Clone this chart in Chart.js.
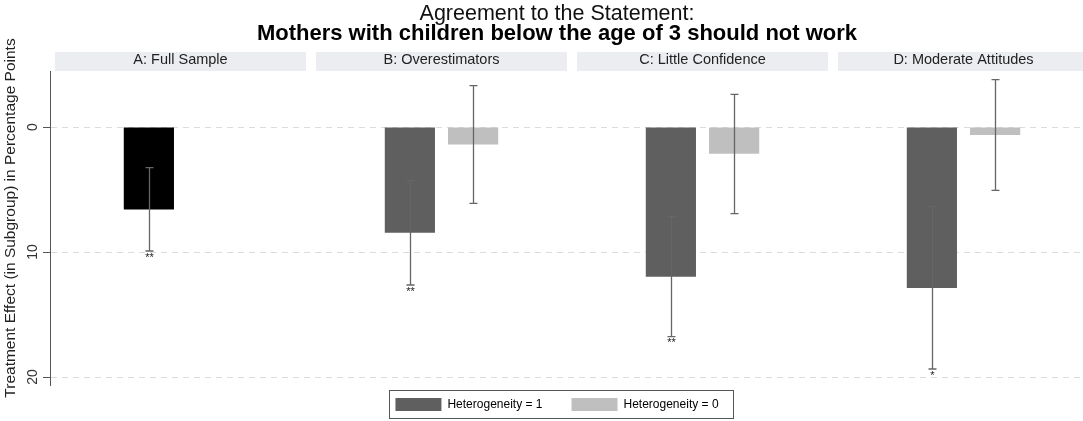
<!DOCTYPE html>
<html>
<head>
<meta charset="utf-8">
<script src="https://cdn.jsdelivr.net/npm/chart.js@4.4.1/dist/chart.umd.min.js"></script>
<style>
html, body { margin: 0; padding: 0; background: #fff; overflow: hidden; }
/* the original figure is cut off on the right, so the canvas runs a bit past the window */
#wrap { width: 1094px; height: 421px; }
</style>
</head>
<body>
<div id="wrap"><canvas id="effectChart"></canvas></div>
<script>
Chart.defaults.font.family = "'Liberation Sans', Arial, sans-serif";

const panels = ["A: Full Sample", "B: Overestimators", "C: Little Confidence", "D: Moderate Attitudes"];
const het1 = [6.59, 8.45, 11.97, 12.88];
const het1Low = [3.25, 4.29, 7.17, 6.37];
const het1High = [9.92, 12.64, 16.77, 19.36];
const het1Stars = ["**", "**", "**", "*"];
const het0 = [null, 1.39, 2.13, 0.64];
const het0Low = [null, -3.31, -2.61, -3.79];
const het0High = [null, 6.11, 6.93, 5.07];
const het0Stars = ["", "", "", ""];
const yTicks = [0, 10, 20];
const legendLabels = ["Heterogeneity = 1", "Heterogeneity = 0"];
const yTitle = "Treatment Effect (in Subgroup) in Percentage Points";

const darkGrey = "#5f5f5f";
const lightGrey = "#bfbfbf";

// grey strips behind the panel headers
const strips = {
    id: "strips",
    beforeDraw(chart){
        const ctx = chart.ctx;
        const x = chart.scales.x;
        ctx.save();
        ctx.fillStyle = "#fff";
        ctx.fillRect(0, 0, chart.width, chart.height);
        ctx.fillStyle = "#ebedf0";
        for(let i = 0; i < panels.length; i++){
            const cx = x.getPixelForValue(i);
            ctx.fillRect(cx - 125.5, x.top, 251, x.bottom - x.top);
        }
        ctx.restore();
    },
    afterLayout(chart){
        // pull the legend items up a bit so they sit inside the frame
        chart.legend.top -= 16;
    }
};

// confidence intervals + significance stars
const errorBars = {
    id: "errorBars",
    afterDatasetsDraw(chart){
        const ctx = chart.ctx;
        const y = chart.scales.y;
        ctx.save();
        chart.data.datasets.forEach((ds, di) => {
            const meta = chart.getDatasetMeta(di);
            meta.data.forEach((bar, i) => {
                if(ds.low[i] == null) return;
                const bx = Math.round(bar.x) + 0.5;
                const y1 = y.getPixelForValue(ds.low[i]);
                const y2 = y.getPixelForValue(ds.high[i]);
                ctx.strokeStyle = "#666";
                ctx.lineWidth = 1.3;
                ctx.beginPath();
                ctx.moveTo(bx, y1); ctx.lineTo(bx, y2);
                ctx.moveTo(bx - 4, y1); ctx.lineTo(bx + 4, y1);
                ctx.moveTo(bx - 4, y2); ctx.lineTo(bx + 4, y2);
                ctx.stroke();
                if(ds.stars[i]){
                    ctx.fillStyle = "#222";
                    ctx.font = "11px 'Liberation Sans', Arial, sans-serif";
                    ctx.textAlign = "center";
                    ctx.textBaseline = "top";
                    ctx.fillText(ds.stars[i], bx, y2 + 1);
                }
            });
        });
        ctx.restore();
    }
};

// rotated y labels, axis title and the legend frame
const extras = {
    id: "extras",
    afterDraw(chart){
        const ctx = chart.ctx;
        const y = chart.scales.y;
        ctx.save();
        ctx.fillStyle = "#333";
        ctx.font = "14px 'Liberation Sans', Arial, sans-serif";
        ctx.textAlign = "center";
        ctx.textBaseline = "middle";
        yTicks.forEach(v => {
            ctx.save();
            ctx.translate(33, y.getPixelForValue(v));
            ctx.rotate(-Math.PI / 2);
            ctx.fillText(String(v), 0, 0);
            ctx.restore();
        });
        ctx.save();
        ctx.fillStyle = "#222";
        ctx.font = "15.5px 'Liberation Sans', Arial, sans-serif";
        ctx.translate(11, 218);
        ctx.rotate(-Math.PI / 2);
        ctx.fillText(yTitle, 0, 0);
        ctx.restore();

        const boxes = chart.legend.legendHitBoxes;
        if(boxes && boxes.length){
            const left = Math.min(...boxes.map(b => b.left)) - 6;
            const right = Math.max(...boxes.map(b => b.left + b.width)) + 15;
            const top = 390;
            const bottom = 418;
            ctx.strokeStyle = "#555";
            ctx.lineWidth = 1;
            ctx.strokeRect(Math.round(left) + 0.5, top + 0.5, Math.round(right - left), bottom - top);
        }
        ctx.restore();
    }
};

new Chart(document.getElementById("effectChart"), {
    type: "bar",
    data: {
        labels: panels,
        datasets: [
            {
                label: legendLabels[0],
                data: het1,
                low: het1Low,
                high: het1High,
                stars: het1Stars,
                backgroundColor: ["#000000", darkGrey, darkGrey, darkGrey],
                categoryPercentage: 0.4846,
                barPercentage: 0.7937
            },
            {
                label: legendLabels[1],
                data: het0,
                low: het0Low,
                high: het0High,
                stars: het0Stars,
                backgroundColor: lightGrey,
                categoryPercentage: 0.4846,
                barPercentage: 0.7937
            }
        ]
    },
    options: {
        responsive: true,
        maintainAspectRatio: false,
        animation: false,
        layout: {
            padding: {left: 20, right: 0, top: 0, bottom: 0}
        },
        scales: {
            x: {
                position: "top",
                grid: {display: false, drawTicks: false},
                border: {display: false},
                ticks: {color: "#222", font: {size: 14.5}, padding: 2, maxRotation: 0, autoSkip: false},
                afterFit: s => { s.height = 19; }
            },
            y: {
                reverse: true,
                min: -4.48,
                max: 20.64,
                afterBuildTicks: s => { s.ticks = yTicks.map(v => ({value: v})); },
                afterFit: s => { s.width = 30; },
                ticks: {display: false},
                grid: {color: "#dcdcdc", tickColor: "#555", tickLength: 7, lineWidth: 1},
                border: {display: true, color: "#555", dash: [6, 5]}
            }
        },
        plugins: {
            title: {
                display: true,
                text: "Agreement to the Statement:",
                color: "#111",
                font: {size: 21.5, weight: "normal", lineHeight: "20px"},
                padding: {top: 4, bottom: 0}
            },
            subtitle: {
                display: true,
                text: "Mothers with children below the age of 3 should not work",
                color: "#000",
                font: {size: 22, weight: "bold", lineHeight: "20px"},
                padding: {top: 0, bottom: 8}
            },
            legend: {
                position: "bottom",
                maxHeight: 36,
                labels: {
                    boxWidth: 46,
                    boxHeight: 13,
                    color: "#222",
                    font: {size: 12},
                    padding: 29,
                    generateLabels: () => [
                        {text: legendLabels[0], fillStyle: darkGrey, strokeStyle: darkGrey, lineWidth: 0, datasetIndex: 0},
                        {text: legendLabels[1], fillStyle: lightGrey, strokeStyle: lightGrey, lineWidth: 0, datasetIndex: 1}
                    ]
                }
            },
            tooltip: {enabled: false}
        }
    },
    plugins: [strips, errorBars, extras]
});
</script>
</body>
</html>
